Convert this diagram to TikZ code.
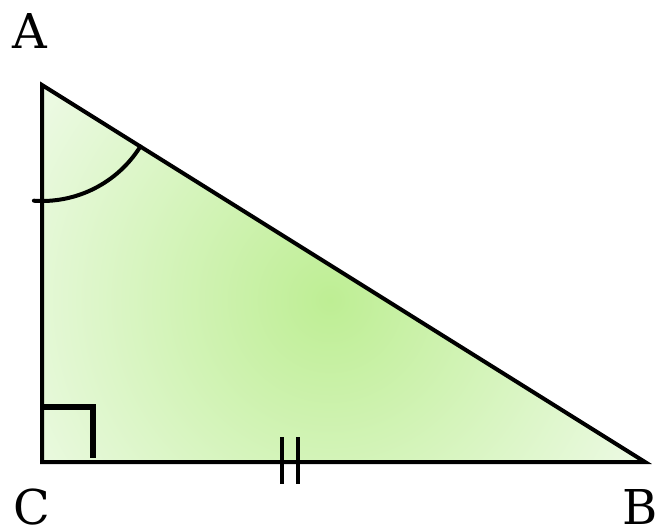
\documentclass[tikz,border=0pt]{standalone}
\usepackage{fontspec}
\setmainfont{DejaVu Serif}
\usetikzlibrary{positioning,calc}

\definecolor{leafin}{RGB}{190,238,148}
\definecolor{leafout}{RGB}{240,251,234}

\begin{document}
\begin{tikzpicture}[x=1pt,y=-1pt,
    side/.style={draw=black, line width=4pt, line join=miter},
    face/.style={shading=radial, inner color=leafin, outer color=leafout},
    corner/.style={draw=black, line width=6pt},
    tick/.style={draw=black, line width=4pt},
    vertex/.style={font=\fontsize{48}{48}\selectfont, inner sep=0pt}]

\useasboundingbox (0,0) rectangle (660,530);

\coordinate (A) at (42,85);
\coordinate (C) at (42,462);
\coordinate (B) at (645,462);

% triangle
\begin{scope}
  \clip (A) -- (B) -- (C) -- cycle;
  \shade[face] (330,300) circle[radius=380];
\end{scope}
\draw[side] (A) -- (B) -- (C) -- cycle;

% right angle at C
\draw[corner] ($(C)+(0,-55)$) -- ($(C)+(51,-55)$) -- ($(C)+(51,-4)$);

% angle at A
\draw[side, line cap=round] ([shift={(94:116)}]A) arc[start angle=94, end angle=32, radius=116];

% equal marks on CB
\coordinate (M) at (290,462);
\draw[tick] ($(M)+(-8,-25)$) -- ($(M)+(-8,22)$);
\draw[tick] ($(M)+(8,-25)$) -- ($(M)+(8,22)$);

\node[vertex] (labA) at (30,31) {A};
\node[vertex] (labC) at (32,507) {C};
\node[vertex] (labB) at (640,507) {B};
\end{tikzpicture}
\end{document}
